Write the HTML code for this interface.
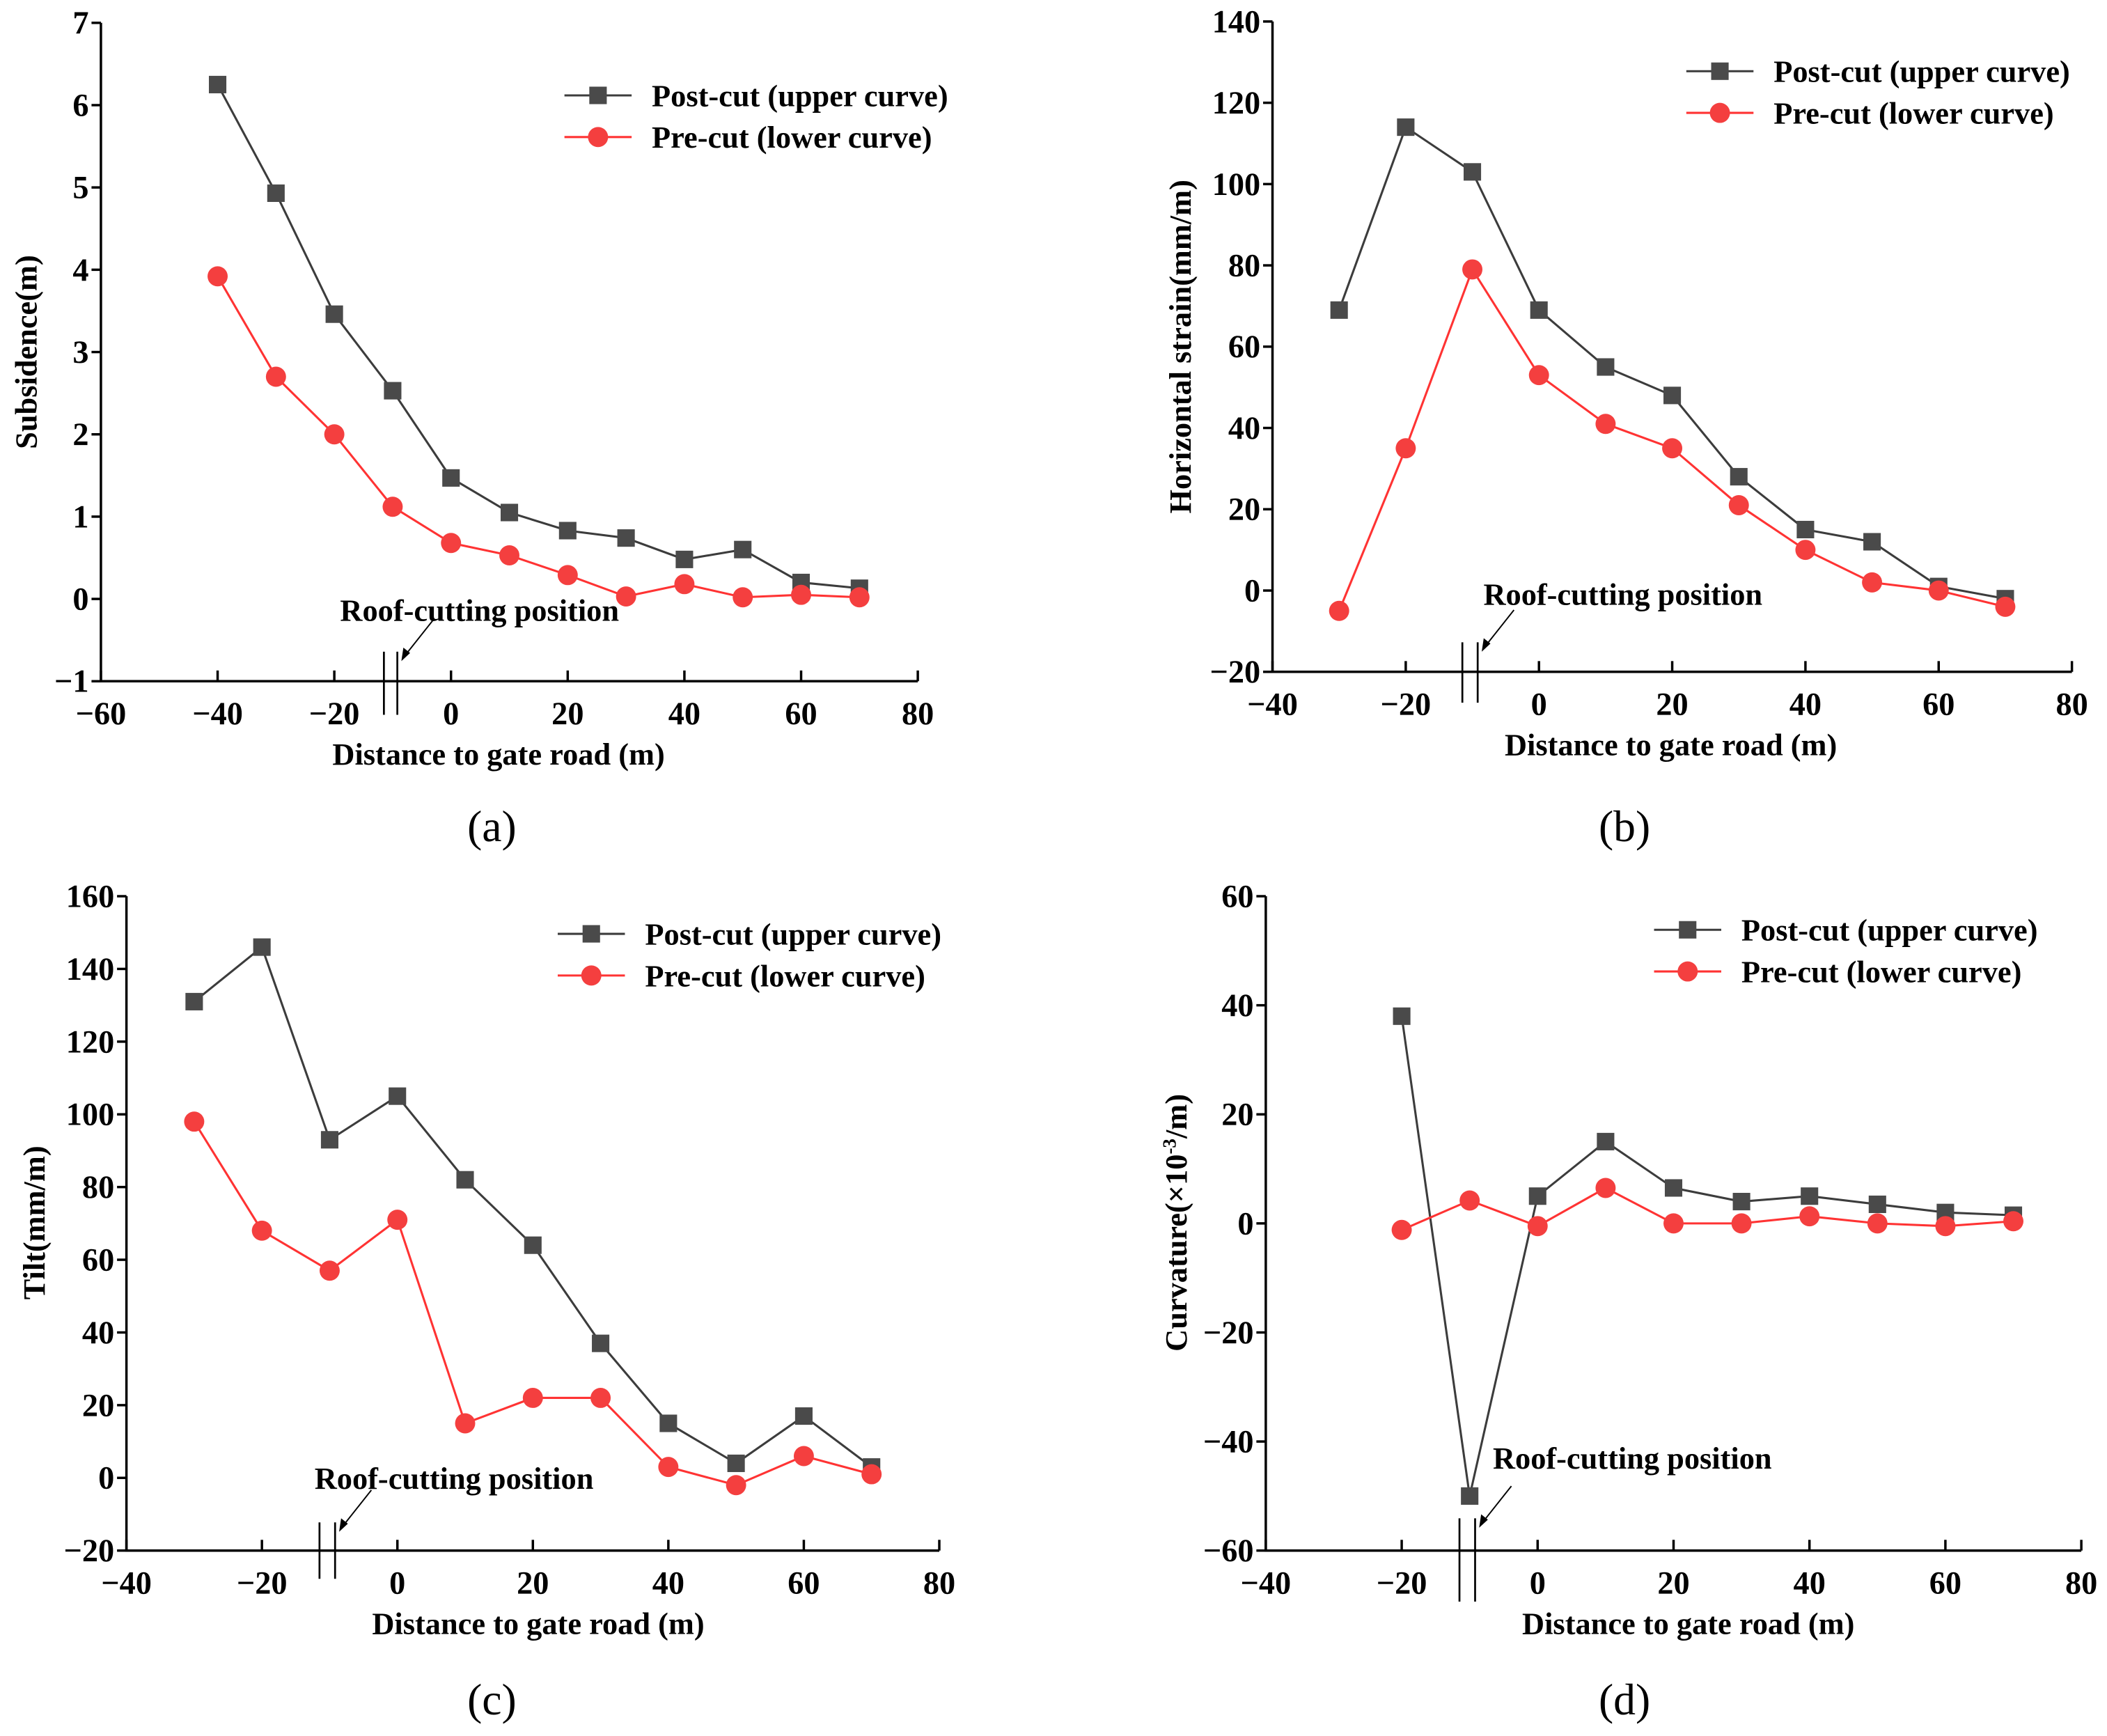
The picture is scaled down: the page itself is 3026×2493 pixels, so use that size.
<!DOCTYPE html>
<html><head><meta charset="utf-8"><style>
html,body{margin:0;padding:0;background:#fff;}
svg{display:block;font-family:"Liberation Serif","Times New Roman","DejaVu Serif",serif;}
svg text{font-family:"Liberation Serif","Times New Roman","DejaVu Serif",serif;fill:#000;}
</style></head><body>
<svg id="fig" width="3026" height="2493" viewBox="0 0 1568 1292" xmlns="http://www.w3.org/2000/svg" font-family="Liberation Serif, serif"></svg>
<script>
// ----- data -----
const aX=[-40,-30,-20,-10,0,10,20,30,40,50,60,70];
const aPost=[6.25,4.93,3.46,2.53,1.47,1.05,0.83,0.74,0.48,0.60,0.20,0.13];
const aPre=[3.92,2.70,2.00,1.12,0.68,0.53,0.29,0.03,0.18,0.02,0.05,0.02];
const aYTicks=[-1,0,1,2,3,4,5,6,7];
const aXTicks=[-60,-40,-20,0,20,40,60,80];

const bX=[-30,-20,-10,0,10,20,30,40,50,60,70];
const bPost=[69,114,103,69,55,48,28,15,12,1,-2];
const bPre=[-5,35,79,53,41,35,21,10,2,0,-4];
const bYTicks=[-20,0,20,40,60,80,100,120,140];
const bXTicks=[-40,-20,0,20,40,60,80];

const cX=[-30,-20,-10,0,10,20,30,40,50,60,70];
const cPost=[131,146,93,105,82,64,37,15,4,17,3];
const cPre=[98,68,57,71,15,22,22,3,-2,6,1];
const cYTicks=[-20,0,20,40,60,80,100,120,140,160];
const cXTicks=[-40,-20,0,20,40,60,80];

const dX=[-20,-10,0,10,20,30,40,50,60,70];
const dPost=[38,-50,5,15,6.5,4,5,3.5,2,1.5];
const dPre=[-1.2,4.2,-0.5,6.5,0,0,1.3,0,-0.5,0.4];
const dYTicks=[-60,-40,-20,0,20,40,60];
const dXTicks=[-40,-20,0,20,40,60,80];

const NS="http://www.w3.org/2000/svg";
const svg=document.getElementById('fig');
const FF='Liberation Serif, Times New Roman, serif';
function mk(tag,attrs,parent){const e=document.createElementNS(NS,tag);for(const k in attrs)e.setAttribute(k,attrs[k]);(parent||svg).appendChild(e);return e;}
function txt(s,attrs,parent){attrs['font-family']=FF;if(!attrs['font-weight'])attrs['font-weight']='bold';const e=mk('text',attrs,parent);e.textContent=s;return e;}

function panel(cfg){
  const g=mk('g',{});
  
  
  const sx=v=>cfg.x0+(v-cfg.xmin)/(cfg.xmax-cfg.xmin)*(cfg.x1-cfg.x0);
  const sy=v=>cfg.y0-(v-cfg.ymin)/(cfg.ymax-cfg.ymin)*(cfg.y0-cfg.y1);
  const ax=mk('path',{d:`M${cfg.x0},${cfg.y1}L${cfg.x0},${cfg.y0}L${cfg.x1},${cfg.y0}`,fill:'none',stroke:'#000','stroke-width':1.8},g);
  
  
  cfg.yt.forEach(v=>{
    mk('line',{x1:cfg.x0-7,x2:cfg.x0,y1:sy(v),y2:sy(v),stroke:'#000','stroke-width':1.8},g);
    const t=txt(String(v).replace('-','\u2212'),{x:cfg.x0-9,y:sy(v)+8,'font-size':24,'text-anchor':'end'},g);
    
    
  });
  cfg.xt.forEach(v=>{
    mk('line',{x1:sx(v),x2:sx(v),y1:cfg.y0-8,y2:cfg.y0,stroke:'#000','stroke-width':1.8},g);
    const t=txt(String(v).replace('-','\u2212'),{x:sx(v),y:cfg.y0+32,'font-size':24,'text-anchor':'middle'},g);
    
    
  });
  const xt=txt('Distance to gate road (m)',{x:(cfg.x0+cfg.x1)/2+cfg.xtDx,y:cfg.y0+62,'font-size':23,'text-anchor':'middle'},g);
  
  
  const yt=mk('text',{transform:`translate(${cfg.ytX},${cfg.ytY}) rotate(-90)`,'font-size':23,'text-anchor':'middle','font-family':FF,'font-weight':'bold'},g);
  yt.innerHTML=cfg.ytitle;
  
  
  const cap=txt(cfg.cap,{x:cfg.capX,y:cfg.capY,'font-size':33,'text-anchor':'middle','font-weight':'normal'},g);
  
  
  const rx1=sx(-11.5),rx2=sx(-9.2);
  mk('line',{x1:rx1,x2:rx1,y1:cfg.rTop,y2:cfg.rBot,stroke:'#000','stroke-width':1.4},g);
  mk('line',{x1:rx2,x2:rx2,y1:cfg.rTop,y2:cfg.rBot,stroke:'#000','stroke-width':1.4},g);
  mk('line',{x1:rx2+27,y1:cfg.rTop-24,x2:rx2+4,y2:cfg.rTop+5,stroke:'#000','stroke-width':1},g);
  mk('path',{d:`M${rx2+3},${cfg.rTop+7}l1.5,-10l5,4z`,fill:'#000'},g);
  const rt=txt('Roof-cutting position',{x:cfg.rtX,y:cfg.rtY,'font-size':23},g);
  
  
  const series=[{xs:cfg.xs,ys:cfg.post,col:'#3c3c3c',mcol:'#4a4a4a',sq:true,name:'post-cut-series'},
                {xs:cfg.xs,ys:cfg.pre,col:'#f33',mcol:'#f43f3f',sq:false,name:'pre-cut-series'}];
  series.forEach(s=>{
    const sg=mk('g',{},g);
    
    
    mk('polyline',{points:s.xs.map((x,i)=>sx(x)+','+sy(s.ys[i])).join(' '),fill:'none',stroke:s.col,'stroke-width':1.6},sg);
    s.xs.forEach((x,i)=>{
      let m;
      if(s.sq)m=mk('rect',{x:sx(x)-6.5,y:sy(s.ys[i])-6.5,width:13,height:13,fill:s.mcol},sg);
      else m=mk('circle',{cx:sx(x),cy:sy(s.ys[i]),r:7.5,fill:s.mcol},sg);
      
      
    });
  });
  const lg=mk('g',{},g);
  
  
  const L=cfg.lx,Y=cfg.ly;
  mk('line',{x1:L,x2:L+50,y1:Y,y2:Y,stroke:'#3c3c3c','stroke-width':1.6},lg);
  mk('rect',{x:L+18.5,y:Y-6.5,width:13,height:13,fill:'#4a4a4a'},lg);
  const l1=txt('Post-cut (upper curve)',{x:L+65,y:Y+8,'font-size':23},lg);
  
  
  mk('line',{x1:L,x2:L+50,y1:Y+31,y2:Y+31,stroke:'#f33','stroke-width':1.6},lg);
  mk('circle',{cx:L+25,cy:Y+31,r:7.5,fill:'#f43f3f'},lg);
  const l2=txt('Pre-cut (lower curve)',{x:L+65,y:Y+39,'font-size':23},lg);
  
  
}

panel({name:'panel-a-subsidence',x0:75,x1:683,xmin:-60,xmax:80,y0:507,y1:17,ymin:-1,ymax:7,yt:aYTicks,xt:aXTicks,xs:aX,post:aPost,pre:aPre,
  ytitle:'Subsidence(m)',ytX:27,ytY:262,xtDx:-8,cap:'(a)',capX:366,capY:626,rTop:485,rBot:532,rtX:253,rtY:462,lx:420,ly:71});
panel({name:'panel-b-horizontal-strain',x0:947,x1:1542,xmin:-40,xmax:80,y0:500,y1:16,ymin:-20,ymax:140,yt:bYTicks,xt:bXTicks,xs:bX,post:bPost,pre:bPre,
  ytitle:'Horizontal strain(mm/m)',ytX:886,ytY:258,xtDx:-1,cap:'(b)',capX:1209,capY:626,rTop:478,rBot:523,rtX:1104,rtY:450,lx:1255,ly:53});
panel({name:'panel-c-tilt',x0:94,x1:699,xmin:-40,xmax:80,y0:1154,y1:667,ymin:-20,ymax:160,yt:cYTicks,xt:cXTicks,xs:cX,post:cPost,pre:cPre,
  ytitle:'Tilt(mm/m)',ytX:33,ytY:910,xtDx:4,cap:'(c)',capX:366,capY:1276,rTop:1133,rBot:1175,rtX:234,rtY:1108,lx:415,ly:695});
panel({name:'panel-d-curvature',x0:942,x1:1549,xmin:-40,xmax:80,y0:1154,y1:667,ymin:-60,ymax:60,yt:dYTicks,xt:dXTicks,xs:dX,post:dPost,pre:dPre,
  ytitle:'Curvature(×10<tspan dy="-8" font-size="14">-3</tspan><tspan dy="8">/m)</tspan>',ytX:883,ytY:910,xtDx:11,cap:'(d)',capX:1209,capY:1276,rTop:1130,rBot:1192,rtX:1111,rtY:1093,lx:1231,ly:692});
</script>
</body></html>
